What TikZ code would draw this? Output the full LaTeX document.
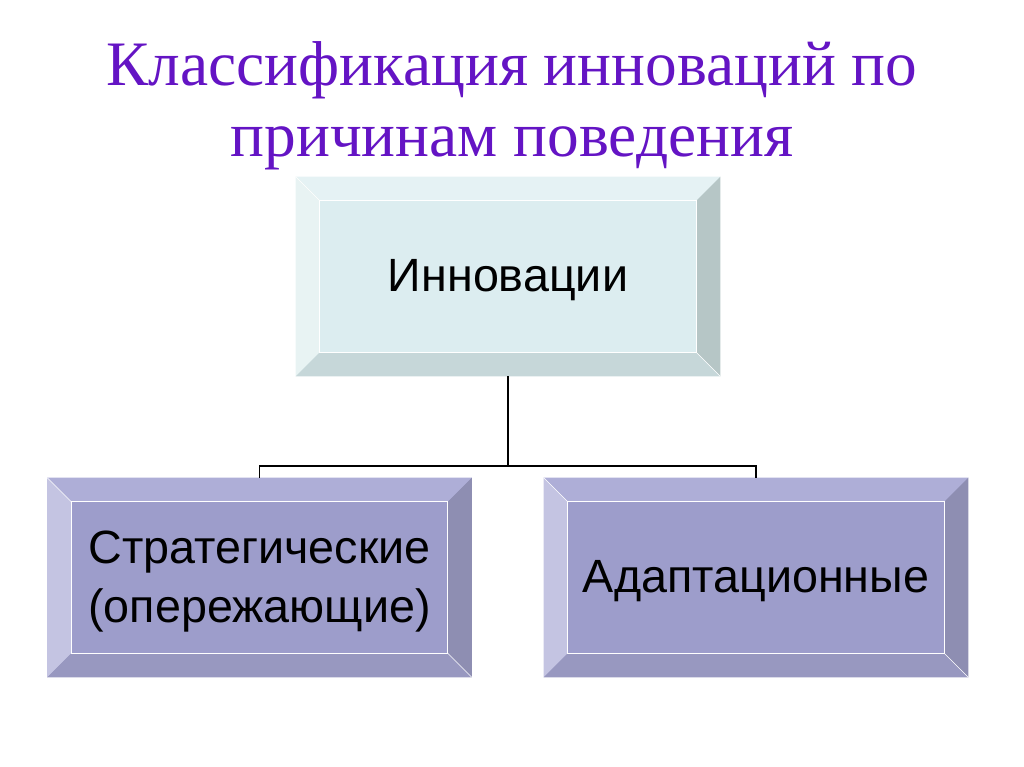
\documentclass[tikz,border=0pt]{standalone}
\usepackage{fontspec}
\setmainfont{Liberation Serif}
\setsansfont{Liberation Sans}
\usepackage{tikz}
\usetikzlibrary{calc}

\definecolor{titleviolet}{RGB}{100,20,196}
\definecolor{cyanface}{RGB}{220,237,240}
\definecolor{cyantop}{RGB}{229,242,244}
\definecolor{cyanleft}{RGB}{232,243,243}
\definecolor{cyanright}{RGB}{182,198,198}
\definecolor{cyanbottom}{RGB}{198,215,217}
\definecolor{lilacface}{RGB}{157,157,203}
\definecolor{lilactop}{RGB}{174,174,215}
\definecolor{lilacleft}{RGB}{196,196,226}
\definecolor{lilacright}{RGB}{142,142,178}
\definecolor{lilacbottom}{RGB}{152,152,192}

% bevel round a box node: #1 name, #2 top, #3 left, #4 right, #5 bottom
\newcommand{\bevelframe}[5]{
  \fill[#2] (#1.north west) -- (#1.north east) -- ([shift={(-24,24)}]#1.north east) -- ([shift={(24,24)}]#1.north west) -- cycle;
  \fill[#3] (#1.north west) -- (#1.south west) -- ([shift={(24,-24)}]#1.south west) -- ([shift={(24,24)}]#1.north west) -- cycle;
  \fill[#4] (#1.north east) -- (#1.south east) -- ([shift={(-24,-24)}]#1.south east) -- ([shift={(-24,24)}]#1.north east) -- cycle;
  \fill[#5] (#1.south west) -- (#1.south east) -- ([shift={(-24,-24)}]#1.south east) -- ([shift={(24,-24)}]#1.south west) -- cycle;
  \draw[white,line width=0.8pt] ([shift={(24,24)}]#1.north west) rectangle ([shift={(-24,-24)}]#1.south east);
  \draw[white,line width=0.5pt] (#1.north west) -- ([shift={(24,24)}]#1.north west);
  \draw[white,line width=0.5pt] (#1.south east) -- ([shift={(-24,-24)}]#1.south east);
}

\begin{document}
\begin{tikzpicture}[x=0.75pt,y=-0.75pt,
    boxnode/.style={inner sep=0pt,minimum width=318pt,minimum height=149.25pt},
    boxtext/.style={font=\sffamily\fontsize{35}{44}\selectfont,align=center,yshift=-3pt},
    titletext/.style={anchor=base,text=titleviolet,font=\fontsize{47.5}{55}\selectfont},
    link/.style={line width=1.4pt}]
  \useasboundingbox (0,0) rectangle (1024,767);

  % heading
  \node[titletext] (title1) at (512,85) {Классификация инноваций по};
  \node[titletext] (title2) at (512,156) {причинам поведения};

  % boxes
  \node[boxnode,fill=cyanface] (innov) at (508,276.5) {};
  \bevelframe{innov}{cyantop}{cyanleft}{cyanright}{cyanbottom}
  \node[boxtext] at (innov) {Инновации};

  \node[boxnode,fill=lilacface] (strat) at (259.5,577.5) {};
  \bevelframe{strat}{lilactop}{lilacleft}{lilacright}{lilacbottom}
  \node[boxtext] at (strat) {Стратегические\\(опережающие)};

  \node[boxnode,fill=lilacface] (adapt) at (756,577.5) {};
  \bevelframe{adapt}{lilactop}{lilacleft}{lilacright}{lilacbottom}
  \node[boxtext] at (adapt) {Адаптационные};

  % tree lines
  \coordinate (fork) at ($(innov.south)+(0,90)$);
  \draw[link] (innov.south) -- (fork);
  \draw[link] (fork) -| (strat.north);
  \draw[link] (fork) -| (adapt.north);
\end{tikzpicture}
\end{document}
